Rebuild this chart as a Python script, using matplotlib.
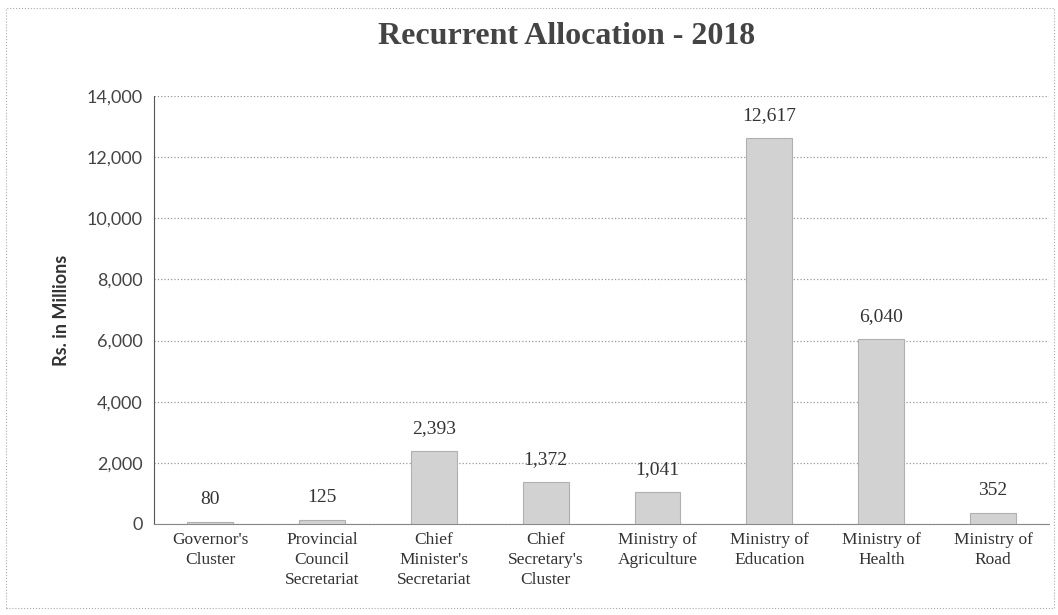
import matplotlib.pyplot as plt
from matplotlib import patches

# データ
categories = ["Governor's\nCluster", "Provincial\nCouncil\nSecretariat",
              "Chief\nMinister's\nSecretariat", "Chief\nSecretary's\nCluster",
              "Ministry of\nAgriculture", "Ministry of\nEducation",
              "Ministry of\nHealth", "Ministry of\nRoad"]
values = [80, 125, 2393, 1372, 1041, 12617, 6040, 352]
yticks = [0, 2000, 4000, 6000, 8000, 10000, 12000, 14000]

fig = plt.figure(figsize=(10.58, 6.15), dpi=100)
ax = fig.add_axes([0.1456, 0.148, 0.846, 0.696])

x = range(len(categories))
bars = ax.bar(x, values, width=0.41, color='#d2d2d2', edgecolor='#b0b0b0',
              linewidth=0.8, zorder=3)

for i, v in enumerate(values):
    ax.annotate(f"{v:,}", (i, v), xytext=(0, 10), textcoords='offset points',
                ha='center', va='bottom', fontsize=14, family='Liberation Serif',
                color='#333333')

ax.set_xlim(-0.5, len(categories) - 0.5)
ax.set_ylim(0, 14000)
ax.set_yticks(yticks)
ax.set_yticklabels([f"{t:,}" for t in yticks], family='Lato', fontsize=13,
                   color='#444444')
ax.set_xticks(list(x))
ax.set_xticklabels(categories, family='Liberation Serif', fontsize=12.5,
                   color='#333333', linespacing=1.3)
ax.tick_params(axis='both', length=0, pad=8)
ax.tick_params(axis='x', pad=6)

ax.grid(axis='y', linestyle=':', color='#999999', linewidth=0.9, zorder=0)
for s in ['top', 'right']:
    ax.spines[s].set_visible(False)
ax.spines['left'].set_color('#555555')
ax.spines['bottom'].set_color('#888888')

ax.set_ylabel("Rs. in Millions", family='Lato', fontweight='bold', fontsize=13,
              color='#333333', labelpad=12)
fig.text(0.536, 0.94, "Recurrent Allocation - 2018", ha='center', va='center',
         family='Liberation Serif', fontweight='bold', fontsize=23, color='#444444')

# 外枠
fig.patches.append(patches.Rectangle((0.006, 0.012), 0.99, 0.975,
                                     transform=fig.transFigure, fill=False,
                                     edgecolor='#aaaaaa', linestyle=':',
                                     linewidth=0.8))

plt.savefig("out.png", dpi=100)
